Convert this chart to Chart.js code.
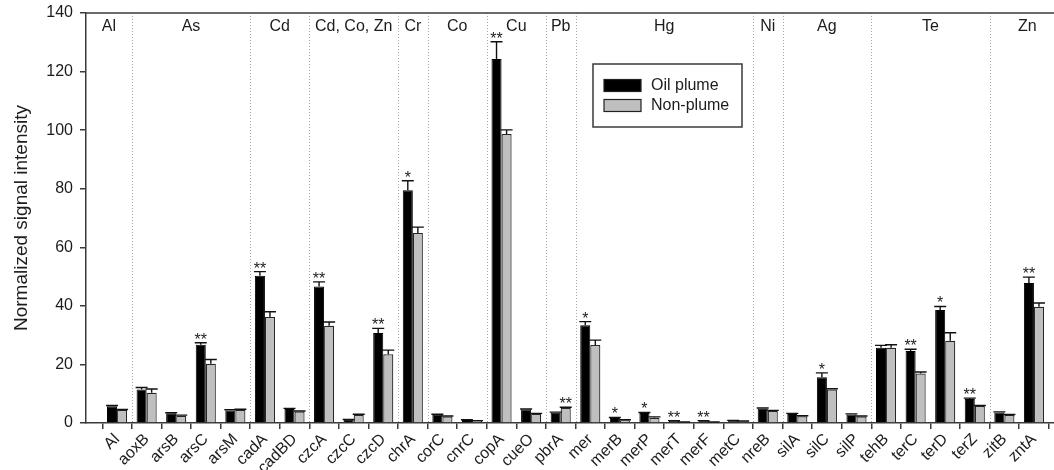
<!DOCTYPE html>
<html>
<head>
<meta charset="utf-8">
<title>Metal resistance gene signal intensity</title>
<script src="https://cdn.jsdelivr.net/npm/chart.js@4.4.1/dist/chart.umd.min.js"></script>
<style>
  html, body { margin: 0; padding: 0; width: 1054px; height: 470px; overflow: hidden; background: #fff; }
  #wrap { width: 1070px; height: 470px; }
  canvas { display: block; }
</style>
</head>
<body>
<div id="wrap"><canvas id="chart" width="1070" height="470"></canvas></div>
<script>
// Genes on the x axis
const genes = ['Al', 'aoxB', 'arsB', 'arsC', 'arsM', 'cadA', 'cadBD', 'czcA', 'czcC', 'czcD',
  'chrA', 'corC', 'cnrC', 'copA', 'cueO', 'pbrA', 'mer', 'merB', 'merP', 'merT',
  'merF', 'metC', 'nreB', 'silA', 'silC', 'silP', 'tehB', 'terC', 'terD', 'terZ',
  'zitB', 'zntA'];

// Mean normalized signal intensity and upper error (SE)
const oilPlume = [5.7, 11.4, 3.3, 26.7, 4.3, 50.3, 4.8, 46.6, 1.1, 30.7,
  79.5, 2.8, 1.0, 124.3, 4.6, 3.5, 33.4, 1.7, 3.4, 0.7,
  0.7, 0.8, 4.9, 3.1, 15.6, 2.9, 25.7, 24.6, 38.6, 8.2,
  3.6, 47.8];
const oilPlumeErr = [0.3, 0.7, 0.2, 0.7, 0.2, 1.4, 0.2, 1.6, 0.1, 1.6,
  3.2, 0.2, 0.1, 5.9, 0.2, 0.2, 1.2, 0.2, 0.2, 0.1,
  0.1, 0.1, 0.2, 0.2, 1.5, 0.2, 0.8, 0.6, 1.2, 0.3,
  0.2, 2.0];
const nonPlume = [4.4, 10.3, 2.5, 20.2, 4.5, 36.2, 3.9, 33.2, 2.7, 23.5,
  64.9, 2.2, 0.7, 98.7, 3.1, 5.1, 26.6, 0.9, 1.8, 0.3,
  0.3, 0.6, 4.1, 2.3, 11.4, 2.2, 25.7, 16.9, 28.1, 5.8,
  2.7, 39.7];
const nonPlumeErr = [0.2, 1.3, 0.2, 1.5, 0.2, 1.8, 0.2, 1.3, 0.3, 1.4,
  2.0, 0.2, 0.1, 1.4, 0.2, 0.3, 1.7, 0.2, 0.3, 0.1,
  0.1, 0.1, 0.2, 0.2, 0.3, 0.2, 1.0, 0.5, 2.7, 0.2,
  0.2, 1.3];

// Significance of the plume / non-plume difference
const significance = ['', '', '', '**', '', '**', '', '**', '', '**',
  '*', '', '', '**', '', '**', '*', '*', '*', '**',
  '**', '', '', '', '*', '', '', '**', '*', '**',
  '', '**'];

// Metal each run of genes responds to, and how many genes are in each run
const metalGroups = ['Al', 'As', 'Cd', 'Cd, Co, Zn', 'Cr', 'Co', 'Cu', 'Pb', 'Hg', 'Ni', 'Ag', 'Te', 'Zn'];
const groupSizes = [1, 4, 2, 3, 1, 2, 2, 1, 6, 1, 3, 4, 2];

const yTicks = [0, 20, 40, 60, 80, 100, 120, 140];
const seriesNames = ['Oil plume', 'Non-plume'];

const FONT = "'Liberation Sans', Arial, Helvetica, sans-serif";
const INK = '#1c1c1c';
const AXIS = '#3a3a3a';
const BLACK_FILL = '#000000';
const GREY_FILL = '#bfbfbf';
const X_MIN = -1.05;
const X_MAX = genes.length - 1 + 1.05;

const errors = [oilPlumeErr, nonPlumeErr];

// Group boundaries sit halfway between neighbouring genes
const boundaries = [];
{
  let acc = 0;
  for (let g = 0; g < groupSizes.length - 1; g++) {
    acc += groupSizes[g];
    boundaries.push(acc - 0.5);
  }
}

const decorations = {
  id: 'decorations',
  beforeDatasetsDraw(chart) {
    const { ctx, chartArea, scales } = chart;
    ctx.save();
    // dotted separators between metal groups
    ctx.strokeStyle = '#a8a8a8';
    ctx.lineWidth = 1;
    ctx.setLineDash([1, 2]);
    boundaries.forEach(b => {
      const x = Math.round(scales.x.getPixelForValue(b)) + 0.5;
      ctx.beginPath();
      ctx.moveTo(x, chartArea.top);
      ctx.lineTo(x, chartArea.bottom);
      ctx.stroke();
    });
    ctx.restore();
  },
  afterDatasetsDraw(chart) {
    const { ctx, chartArea, scales } = chart;
    const y = scales.y;
    ctx.save();

    // upper error bars
    ctx.strokeStyle = '#111';
    ctx.lineWidth = 1.4;
    const capTops = genes.map(() => Infinity);
    chart.data.datasets.forEach((ds, di) => {
      const meta = chart.getDatasetMeta(di);
      meta.data.forEach((bar, i) => {
        const v = ds.data[i].y;
        const top = y.getPixelForValue(v);
        const cap = y.getPixelForValue(v + errors[di][i]);
        ctx.beginPath();
        ctx.moveTo(bar.x, top);
        ctx.lineTo(bar.x, cap);
        ctx.moveTo(bar.x - 6, cap);
        ctx.lineTo(bar.x + 6, cap);
        ctx.stroke();
        if (cap < capTops[i]) capTops[i] = cap;
      });
    });

    // significance marks above the taller bar of each pair
    ctx.fillStyle = INK;
    ctx.font = '16px ' + FONT;
    ctx.textAlign = 'center';
    ctx.textBaseline = 'alphabetic';
    genes.forEach((g, i) => {
      if (!significance[i]) return;
      const a = oilPlume[i] + oilPlumeErr[i];
      const b = nonPlume[i] + nonPlumeErr[i];
      const di = a >= b ? 0 : 1;
      const bar = chart.getDatasetMeta(di).data[i];
      ctx.fillText(significance[i], bar.x, capTops[i] + 2);
    });

    // top frame line
    ctx.strokeStyle = AXIS;
    ctx.lineWidth = 1.5;
    ctx.beginPath();
    ctx.moveTo(chartArea.left, chartArea.top);
    ctx.lineTo(chartArea.right, chartArea.top);
    ctx.stroke();

    // metal names above each group
    ctx.font = '16px ' + FONT;
    ctx.fillStyle = INK;
    let start = X_MIN;
    let acc = 0;
    metalGroups.forEach((name, g) => {
      acc += groupSizes[g];
      const end = g === metalGroups.length - 1 ? X_MAX : acc - 0.5;
      const cx = scales.x.getPixelForValue((start + end) / 2);
      ctx.fillText(name, cx, chartArea.top + 18);
      start = end;
    });

    // legend box
    const lx = chartArea.left + 507;
    const ly = chartArea.top + 51;
    ctx.strokeStyle = AXIS;
    ctx.lineWidth = 1.5;
    ctx.strokeRect(lx, ly, 149, 63);
    const fills = [BLACK_FILL, GREY_FILL];
    ctx.textAlign = 'left';
    ctx.textBaseline = 'middle';
    seriesNames.forEach((name, k) => {
      const sy = ly + 15.5 + k * 20;
      ctx.fillStyle = fills[k];
      ctx.fillRect(lx + 11, sy, 37, 12);
      ctx.strokeStyle = '#222';
      ctx.lineWidth = 1.2;
      ctx.strokeRect(lx + 11, sy, 37, 12);
      ctx.fillStyle = INK;
      ctx.fillText(name, lx + 58, sy + 6.5);
    });

    ctx.restore();
  }
};

new Chart(document.getElementById('chart'), {
  type: 'bar',
  data: {
    datasets: [
      {
        label: seriesNames[0],
        data: genes.map((g, i) => ({ x: i, y: oilPlume[i] })),
        backgroundColor: BLACK_FILL,
        borderColor: '#000',
        borderWidth: 1,
        categoryPercentage: 0.68,
        barPercentage: 1.0
      },
      {
        label: seriesNames[1],
        data: genes.map((g, i) => ({ x: i, y: nonPlume[i] })),
        backgroundColor: GREY_FILL,
        borderColor: '#262626',
        borderWidth: 1.2,
        categoryPercentage: 0.68,
        barPercentage: 1.0
      }
    ]
  },
  options: {
    responsive: false,
    animation: false,
    devicePixelRatio: 1,
    layout: { padding: { top: 13, right: 5, left: 0, bottom: 0 } },
    plugins: {
      legend: { display: false },
      tooltip: { enabled: false }
    },
    scales: {
      x: {
        type: 'linear',
        min: X_MIN,
        max: X_MAX,
        offset: false,
        afterBuildTicks: axis => { axis.ticks = genes.map((g, i) => ({ value: i })); },
        afterFit: s => { s.height = 47; s.paddingLeft = 0; s.paddingRight = 0; },
        grid: { drawOnChartArea: false, drawTicks: true, tickLength: 6, color: AXIS, lineWidth: 1.5 },
        border: { display: true, color: AXIS, width: 1.5 },
        ticks: {
          autoSkip: false,
          minRotation: 45,
          maxRotation: 45,
          padding: 1,
          color: INK,
          font: { family: FONT, size: 16 },
          callback: v => (Number.isInteger(v) && genes[v] !== undefined) ? genes[v] : ''
        }
      },
      y: {
        min: 0,
        max: 140,
        afterBuildTicks: axis => { axis.ticks = yTicks.map(v => ({ value: v })); },
        afterFit: s => { s.width = 86; s.paddingTop = 0; s.paddingBottom = 0; },
        grid: { drawOnChartArea: false, drawTicks: true, tickLength: 6, color: AXIS, lineWidth: 1.5 },
        border: { display: true, color: AXIS, width: 1.5 },
        ticks: { padding: 7, color: INK, font: { family: FONT, size: 16 } },
        title: {
          display: true,
          text: 'Normalized signal intensity',
          color: INK,
          font: { family: FONT, size: 19 },
          padding: { top: 10, bottom: 0 }
        }
      }
    }
  },
  plugins: [decorations]
});
</script>
</body>
</html>
